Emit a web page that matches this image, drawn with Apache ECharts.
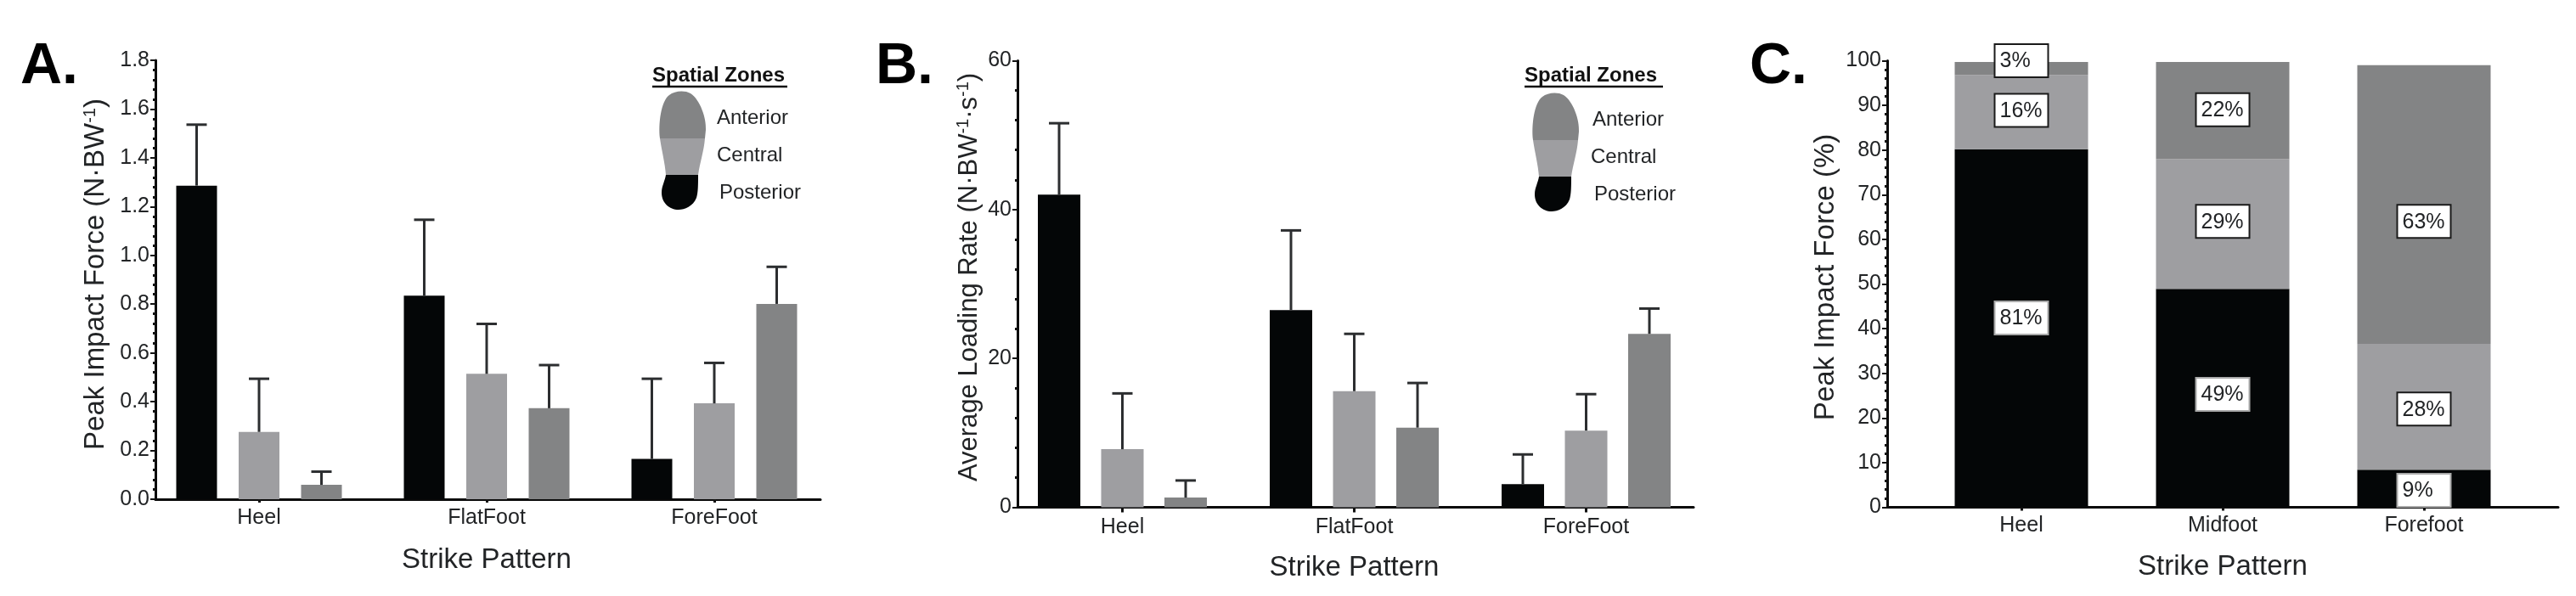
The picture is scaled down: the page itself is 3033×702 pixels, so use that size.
<!DOCTYPE html>
<html><head><meta charset="utf-8">
<style>html,body{margin:0;padding:0;background:#fff}#c{width:3033px;height:702px}</style>
<script src="https://cdn.jsdelivr.net/npm/echarts@6/dist/echarts.min.js"></script>
</head><body><div id="c"></div>
<script>
// ---------- Data ----------
var strikeCategories = ['Heel', 'FlatFoot', 'ForeFoot'];
var strikeCategoriesC = ['Heel', 'Midfoot', 'Forefoot'];
var zoneNames = ['Posterior', 'Central', 'Anterior'];

var forcePosterior = [1.286, 0.835, 0.165];
var forceCentral = [0.276, 0.514, 0.393];
var forceAnterior = [0.059, 0.373, 0.801];
var forcePosteriorTop = [1.536, 1.146, 0.494];
var forceCentralTop = [0.494, 0.719, 0.559];
var forceAnteriorTop = [0.113, 0.550, 0.953];

var ratePosterior = [42.0, 26.5, 3.1];
var rateCentral = [7.8, 15.6, 10.3];
var rateAnterior = [1.3, 10.7, 23.3];
var ratePosteriorTop = [51.6, 37.2, 7.1];
var rateCentralTop = [15.3, 23.3, 15.2];
var rateAnteriorTop = [3.6, 16.7, 26.7];

var sharePosterior = [80.2, 48.9, 8.4];
var shareCentral = [16.6, 29.1, 28.2];
var shareAnterior = [2.9, 21.7, 62.4];
var shareTextPosterior = ['81%', '49%', '9%'];
var shareTextCentral = ['16%', '29%', '28%'];
var shareTextAnterior = ['3%', '22%', '63%'];
var shareLabelPosterior = [42.4, 25.3, 3.8];
var shareLabelCentral = [88.9, 64, 22];
var shareLabelAnterior = [100, 89, 64];

// ---------- Style ----------
var FONT = '"Liberation Sans", Arial, sans-serif';
var INK = '#222426';
var zoneColors = ['#040607', '#9e9ea1', '#838485'];
var AXIS_W = 3;

var grids = [], xAxes = [], yAxes = [], series = [];

function addPanel(p) {
  var g = grids.length;
  // band grid holds the bars, frame grid holds the visible axis lines
  grids.push({ left: p.bandLeft, width: p.bandWidth, top: p.top, height: p.height });
  grids.push({ left: p.frameLeft, width: p.frameWidth, top: p.top, height: p.height });
  xAxes.push({
    gridIndex: g, type: 'category', data: p.categories,
    axisLine: { show: false },
    axisTick: { show: true, alignWithLabel: true, length: p.xTick, lineStyle: { color: '#111', width: 3 } },
    axisLabel: { fontFamily: FONT, fontSize: 25, color: INK, margin: p.xMargin },
    name: 'Strike Pattern', nameLocation: 'middle', nameGap: p.xNameGap,
    nameTextStyle: { fontFamily: FONT, fontSize: 33, color: INK }
  });
  xAxes.push({
    gridIndex: g + 1, type: 'value', min: 0, max: 1,
    axisLine: { show: true, onZero: false, lineStyle: { color: '#0a0a0a', width: AXIS_W } },
    axisTick: { show: false }, axisLabel: { show: false }, splitLine: { show: false }
  });
  yAxes.push({ gridIndex: g, type: 'value', min: 0, max: p.max, interval: p.interval, show: false });
  yAxes.push({
    gridIndex: g + 1, type: 'value', min: 0, max: p.max, interval: p.interval,
    axisLine: { show: true, lineStyle: { color: '#0a0a0a', width: AXIS_W } },
    axisTick: { show: true, length: 6, lineStyle: { color: '#111', width: 2 } },
    minorTick: { show: true, splitNumber: 5, length: 3, lineStyle: { color: '#111', width: 3 } },
    splitLine: { show: false }, minorSplitLine: { show: false },
    axisLabel: {
      fontFamily: FONT, fontSize: 25, color: INK, margin: 7,
      formatter: function (v) { return p.decimals ? v.toFixed(p.decimals) : String(v); }
    },
    name: p.yName, nameLocation: 'middle', nameGap: p.yNameGap, nameRotate: 90,
    nameTextStyle: {
      fontFamily: FONT, fontSize: p.yNameSize, color: INK, padding: p.yNamePad,
      rich: { sup: { fontFamily: FONT, fontSize: 20, color: INK, padding: [0, 0, 14, 0] } }
    }
  });
  return g;
}

function addGrouped(g, barW, gapPx, means, tops) {
  means.forEach(function (vals, z) {
    series.push({
      type: 'bar', name: zoneNames[z], xAxisIndex: g, yAxisIndex: g, data: vals,
      barWidth: barW, barGap: (gapPx / barW * 100) + '%',
      itemStyle: { color: zoneColors[z] }, silent: true
    });
  });
  means.forEach(function (vals, z) {
    var data = vals.map(function (m, i) { return [i, m, tops[z][i]]; });
    var off = (z - 1) * (barW + gapPx);
    series.push({
      type: 'custom', name: zoneNames[z] + ' error', xAxisIndex: g, yAxisIndex: g, data: data, clip: false, z: 3,
      encode: { x: 0, y: [1, 2] }, silent: true,
      renderItem: function (params, api) {
        var a = api.coord([api.value(0), api.value(1)]);
        var b = api.coord([api.value(0), api.value(2)]);
        var x = a[0] + off;
        var st = { stroke: '#2c2e30', lineWidth: 3, fill: null };
        return {
          type: 'group', children: [
            { type: 'line', shape: { x1: x, y1: a[1], x2: x, y2: b[1] }, style: st },
            { type: 'line', shape: { x1: x - 12, y1: b[1], x2: x + 12, y2: b[1] }, style: st }
          ]
        };
      }
    });
  });
}

// ---------- Panels ----------
var A = addPanel({
  categories: strikeCategories, bandLeft: 171, bandWidth: 804, frameLeft: 183, frameWidth: 783,
  top: 71, height: 517, max: 1.8, interval: 0.2, decimals: 1,
  yName: 'Peak Impact Force (N·BW{sup|-1})', yNameSize: 33, yNameGap: 53, yNamePad: [0, 0, 0, 13],
  xTick: 4, xMargin: 10, xNameGap: 55
});
addGrouped(A, 48, 25.5, [forcePosterior, forceCentral, forceAnterior], [forcePosteriorTop, forceCentralTop, forceAnteriorTop]);

var B = addPanel({
  categories: strikeCategories, bandLeft: 1185, bandWidth: 819, frameLeft: 1198, frameWidth: 796,
  top: 71.5, height: 526, max: 60, interval: 20, decimals: 0,
  yName: 'Average Loading Rate (N·BW{sup|-1}·s{sup|-1})', yNameSize: 31, yNameGap: 40, yNamePad: [0, 0, 0, 16],
  xTick: 6, xMargin: 11, xNameGap: 55
});
addGrouped(B, 50, 24.5, [ratePosterior, rateCentral, rateAnterior], [ratePosteriorTop, rateCentralTop, rateAnteriorTop]);

var C = addPanel({
  categories: strikeCategoriesC, bandLeft: 2261.5, bandWidth: 711, frameLeft: 2222, frameWidth: 790,
  top: 71.5, height: 526, max: 100, interval: 10, decimals: 0,
  yName: 'Peak Impact Force (%)', yNameSize: 33, yNameGap: 56, yNamePad: [0, 0, 0, 16],
  xTick: 4, xMargin: 9, xNameGap: 54
});
[sharePosterior, shareCentral, shareAnterior].forEach(function (vals, z) {
  series.push({
    type: 'bar', name: zoneNames[z], xAxisIndex: C, yAxisIndex: C, data: vals, stack: 'share',
    barWidth: 157, itemStyle: { color: zoneColors[z] }, silent: true
  });
});
var labelBorders = ['#a9a9a9', '#1a1a1a', '#1a1a1a'];
[[shareLabelPosterior, shareTextPosterior], [shareLabelCentral, shareTextCentral], [shareLabelAnterior, shareTextAnterior]].forEach(function (pair, z) {
  series.push({
    type: 'scatter', name: zoneNames[z] + ' label', xAxisIndex: C, yAxisIndex: C, z: 5, silent: true, clip: false,
    symbolSize: 1, itemStyle: { color: '#ffffff', opacity: 1 },
    data: pair[0].map(function (y, i) { return { value: [i, y], text: pair[1][i] }; }),
    label: {
      show: true, position: 'inside', opacity: 1,
      formatter: function (p) { return '{t|' + p.data.text + '}'; },
      backgroundColor: '#ffffff', borderColor: labelBorders[z], borderWidth: 2, padding: [6, 4, 4, 5],
      rich: { t: { width: 52, align: 'left', fontFamily: FONT, fontSize: 25, color: INK, lineHeight: 27 } }
    }
  });
});

// ---------- Panel letters and foot keys ----------
var graphics = [];
[['A.', 24], ['B.', 1031], ['C.', 2060]].forEach(function (l) {
  graphics.push({ type: 'text', x: l[1], y: 79, silent: true,
    style: { text: l[0], fontFamily: FONT, fontWeight: 'bold', fontSize: 68, fill: '#000', verticalAlign: 'middle' } });
});
var footAnterior = 'M1 56C-1 40 2 12 12 5C18 0 30 -1 37 3C48 10 56 32 55 46L54 56Z';
var footCentral = 'M1 56L54 56C53 70 48 85 46 99L8 99C7 85 3 70 1 56Z';
var footPosterior = 'M8 99L46 99C46 110 46 120 44 126C40 136 30 140 23 140C12 140 3 132 3 120C3 112 7 106 8 99Z';
var footPaths = [footPosterior, footCentral, footAnterior];
function addKey(k) {
  series.push({
    type: 'custom', name: 'Foot key', coordinateSystem: 'none', data: [0], silent: true, clip: false, z: 4,
    renderItem: function () {
      return {
        type: 'group', x: k.footX, y: k.footY,
        children: footPaths.map(function (d, z) {
          return { type: 'path', shape: { pathData: d, x: 0, y: 0 }, style: { fill: zoneColors[z] } };
        })
      };
    }
  });
  graphics.push({ type: 'text', x: k.titleX, y: 89, silent: true,
    style: { text: 'Spatial Zones', fontFamily: FONT, fontWeight: 'bold', fontSize: 24, fill: '#111', verticalAlign: 'middle' } });
  graphics.push({ type: 'line', silent: true, shape: { x1: k.titleX, y1: 102, x2: k.titleX + k.titleW, y2: 102 }, style: { stroke: '#111', lineWidth: 2.5 } });
  [['Anterior', k.a], ['Central', k.c], ['Posterior', k.p]].forEach(function (t) {
    graphics.push({ type: 'text', x: t[1][0], y: t[1][1], silent: true,
      style: { text: t[0], fontFamily: FONT, fontSize: 24, fill: INK, verticalAlign: 'middle' } });
  });
}
addKey({ footX: 776, footY: 107, titleX: 768, titleW: 159, a: [844, 139], c: [844, 183], p: [847, 227] });
addKey({ footX: 1804, footY: 109, titleX: 1795, titleW: 163, a: [1875, 141], c: [1873, 185], p: [1877, 229] });

var chart = echarts.init(document.getElementById('c'), null, { renderer: 'canvas' });
chart.setOption({
  backgroundColor: '#fff', animation: false, legend: { show: false }, tooltip: { show: false },
  grid: grids, xAxis: xAxes, yAxis: yAxes, series: series, graphic: { elements: graphics }
});
</script></body></html>
